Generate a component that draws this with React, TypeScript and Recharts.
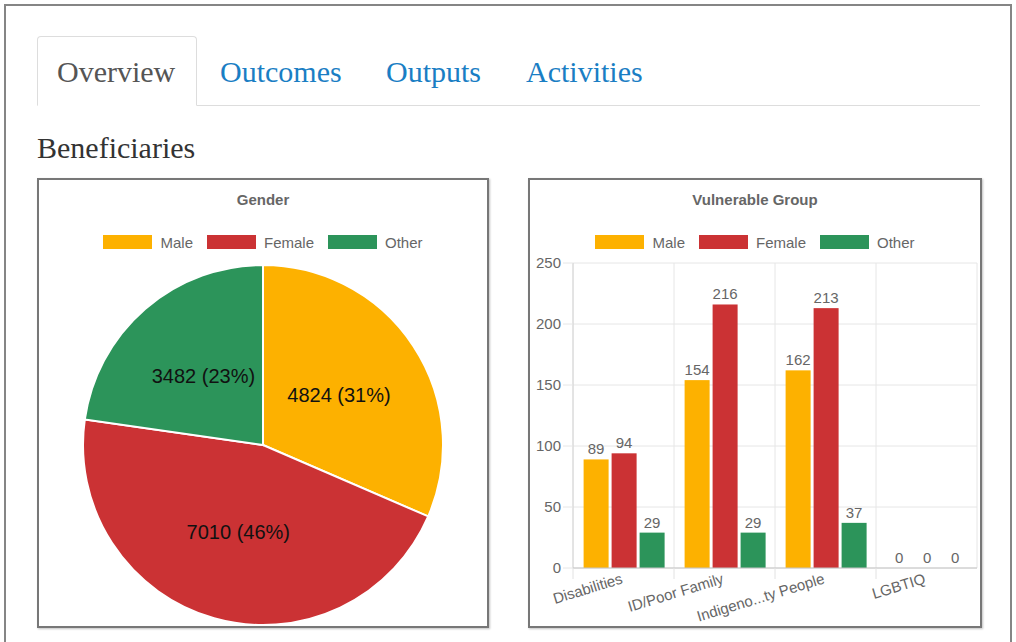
import React from 'react';
import { PieChart, Pie, Cell, BarChart, Bar, XAxis, YAxis, CartesianGrid, LabelList } from 'recharts';

const tabLabels = ['Overview', 'Outcomes', 'Outputs', 'Activities'];
const seriesNames = ['Male', 'Female', 'Other'];
const seriesColors = ['#FDB100', '#CB3234', '#2C945A'];
const genderValues = [4824, 7010, 3482];
const groupCategories = ['Disabilities', 'ID/Poor Family', 'Indigeno...ty People', 'LGBTIQ'];
const maleValues = [89, 154, 162, 0];
const femaleValues = [94, 216, 213, 0];
const otherValues = [29, 29, 37, 0];
const yTicks = [0, 50, 100, 150, 200, 250];

const pieData = seriesNames.map((n, i) => ({ name: n, value: genderValues[i] }));
const barData = groupCategories.map((c, i) => ({
  name: c,
  Male: maleValues[i],
  Female: femaleValues[i],
  Other: otherValues[i],
}));

const SANS = '"Liberation Sans", Arial, sans-serif';
const SERIF = '"Liberation Serif", "Times New Roman", serif';

const tabLefts = [57, 220, 386, 526];

const Legend = ({ left, width }: { left: number; width: number }) => (
  <div
    style={{
      position: 'absolute',
      left,
      width,
      top: 232,
      height: 20,
      display: 'flex',
      justifyContent: 'center',
      alignItems: 'center',
      fontFamily: SANS,
      fontSize: 15,
      color: '#666',
    }}
  >
    {seriesNames.map((n, i) => (
      <div key={n} style={{ display: 'flex', alignItems: 'center', marginRight: i < 2 ? 14 : 0 }}>
        <div style={{ width: 49, height: 14, background: seriesColors[i], marginRight: 8 }} />
        <span>{n}</span>
      </div>
    ))}
  </div>
);

const Title = ({ left, width, text }: { left: number; width: number; text: string }) => (
  <div
    style={{
      position: 'absolute',
      left,
      width,
      top: 190,
      height: 20,
      lineHeight: '20px',
      textAlign: 'center',
      fontFamily: SANS,
      fontSize: 15,
      fontWeight: 'bold',
      color: '#666',
    }}
  >
    {text}
  </div>
);

const renderPieLabel = (props: any) => {
  const { cx, cy, midAngle, outerRadius, value, percent } = props;
  const RAD = Math.PI / 180;
  const r = outerRadius * 0.505;
  const x = cx + r * Math.cos(-midAngle * RAD);
  const y = cy + r * Math.sin(-midAngle * RAD);
  return (
    <text x={x} y={y} textAnchor="middle" dominantBaseline="central" fill="#111" fontFamily={SANS} fontSize={20}>
      {`${value} (${Math.round(percent * 100)}%)`}
    </text>
  );
};

const BarValueLabel = (props: any) => {
  const { x, y, width, height, value } = props;
  const top = Number(y) + (Number(height) < 0 ? Number(height) : 0);
  const baseY = Number(value) === 0 ? Number(y) + Math.abs(Number(height)) - 5 : top - 5;
  return (
    <text
      x={Number(x) + Number(width) / 2}
      y={baseY}
      textAnchor="middle"
      fill="#666"
      fontFamily={SANS}
      fontSize={15}
    >
      {value}
    </text>
  );
};

const makeShape = (key: string, color: string) => (props: any) => {
  const { x, y, width, height, payload } = props;
  if (!payload || Number(payload[key]) === 0) return <g />;
  return <rect x={x} y={y} width={width} height={height} fill={color} />;
};

const XTick = (props: any) => {
  const { x, y, payload } = props;
  const half = payload && payload.offset ? payload.offset : 50.5;
  return (
    <g>
      <line x1={x - half} x2={x - half} y1={y} y2={y + 11} stroke="#e2e2e2" />
      <text
        x={x}
        y={y + 15}
        textAnchor="end"
        fill="#666"
        fontFamily={SANS}
        fontSize={15}
        transform={`rotate(-17 ${x} ${y + 15})`}
      >
        {payload.value}
      </text>
    </g>
  );
};

export default function App() {
  return (
    <div style={{ position: 'absolute', left: 0, top: 0, width: 1016, height: 642, overflow: 'hidden', background: '#fff' }}>
      <div
        style={{
          position: 'absolute',
          left: 4,
          top: 4,
          width: 1008,
          height: 700,
          border: '2px solid #858585',
          boxSizing: 'border-box',
        }}
      />
      <div style={{ position: 'absolute', left: 37, top: 105, width: 943, height: 1, background: '#dddddd' }} />
      <div
        style={{
          position: 'absolute',
          left: 37,
          top: 36,
          width: 160,
          height: 70,
          border: '1px solid #dddddd',
          borderBottom: '1px solid #fff',
          borderRadius: '4px 4px 0 0',
          boxSizing: 'border-box',
          background: '#fff',
        }}
      />
      {tabLabels.map((t, i) => (
        <div
          key={t}
          style={{
            position: 'absolute',
            left: tabLefts[i],
            top: 57,
            fontFamily: SERIF,
            fontSize: 30,
            lineHeight: '30px',
            color: i === 0 ? '#555' : '#1a7ec4',
            whiteSpace: 'nowrap',
          }}
        >
          {t}
        </div>
      ))}
      <div
        style={{
          position: 'absolute',
          left: 37,
          top: 133,
          fontFamily: SERIF,
          fontSize: 30,
          lineHeight: '30px',
          color: '#333',
          whiteSpace: 'nowrap',
        }}
      >
        Beneficiaries
      </div>

      <div
        style={{
          position: 'absolute',
          left: 37,
          top: 178,
          width: 452,
          height: 450,
          border: '2px solid #777',
          boxSizing: 'border-box',
          boxShadow: '1px 1px 2px rgba(0,0,0,0.25)',
        }}
      >
        <div style={{ position: 'absolute', left: 0, top: 0 }}>
          <PieChart width={448} height={446} margin={{ top: 0, right: 0, bottom: 0, left: 0 }}>
            <Pie
              data={pieData}
              dataKey="value"
              nameKey="name"
              cx={224}
              cy={265}
              outerRadius={180}
              startAngle={90}
              endAngle={-270}
              stroke="#fff"
              strokeWidth={2}
              label={renderPieLabel}
              labelLine={false}
              isAnimationActive={false}
            >
              {pieData.map((d, i) => (
                <Cell key={d.name} fill={seriesColors[i]} />
              ))}
            </Pie>
          </PieChart>
        </div>
      </div>
      <Title left={39} width={448} text="Gender" />
      <Legend left={39} width={448} />

      <div
        style={{
          position: 'absolute',
          left: 528,
          top: 178,
          width: 454,
          height: 450,
          border: '2px solid #777',
          boxSizing: 'border-box',
          boxShadow: '1px 1px 2px rgba(0,0,0,0.25)',
        }}
      >
        <div style={{ position: 'absolute', left: 0, top: 0 }}>
          <BarChart
            width={450}
            height={446}
            data={barData}
            margin={{ top: 83, right: 3, bottom: 8, left: 0 }}
            barCategoryGap="10.5%"
            barGap={3}
          >
            <CartesianGrid
              stroke="#e6e6e6"
              verticalCoordinatesGenerator={(p: any) => {
                const o = p.offset;
                return [0, 1, 2, 3, 4].map((i) => o.left + (i * o.width) / 4);
              }}
            />
            <YAxis
              width={43}
              domain={[0, 250]}
              ticks={yTicks}
              interval={0}
              tickSize={10}
              tickMargin={2}
              tickLine={{ stroke: '#e6e6e6' }}
              axisLine={{ stroke: '#d4d4d4' }}
              tick={{ fill: '#666', fontSize: 15, fontFamily: SANS }}
            />
            <XAxis
              dataKey="name"
              height={50}
              interval={0}
              tickSize={0}
              tickMargin={0}
              tickLine={false}
              axisLine={{ stroke: '#c4c4c4' }}
              tick={<XTick />}
            />
            {seriesNames.map((n, i) => (
              <Bar
                key={n}
                dataKey={n}
                fill={seriesColors[i]}
                minPointSize={1}
                shape={makeShape(n, seriesColors[i])}
                isAnimationActive={false}
              >
                <LabelList dataKey={n} position="top" content={<BarValueLabel />} />
              </Bar>
            ))}
          </BarChart>
        </div>
      </div>
      <Title left={530} width={450} text="Vulnerable Group" />
      <Legend left={530} width={450} />
    </div>
  );
}
